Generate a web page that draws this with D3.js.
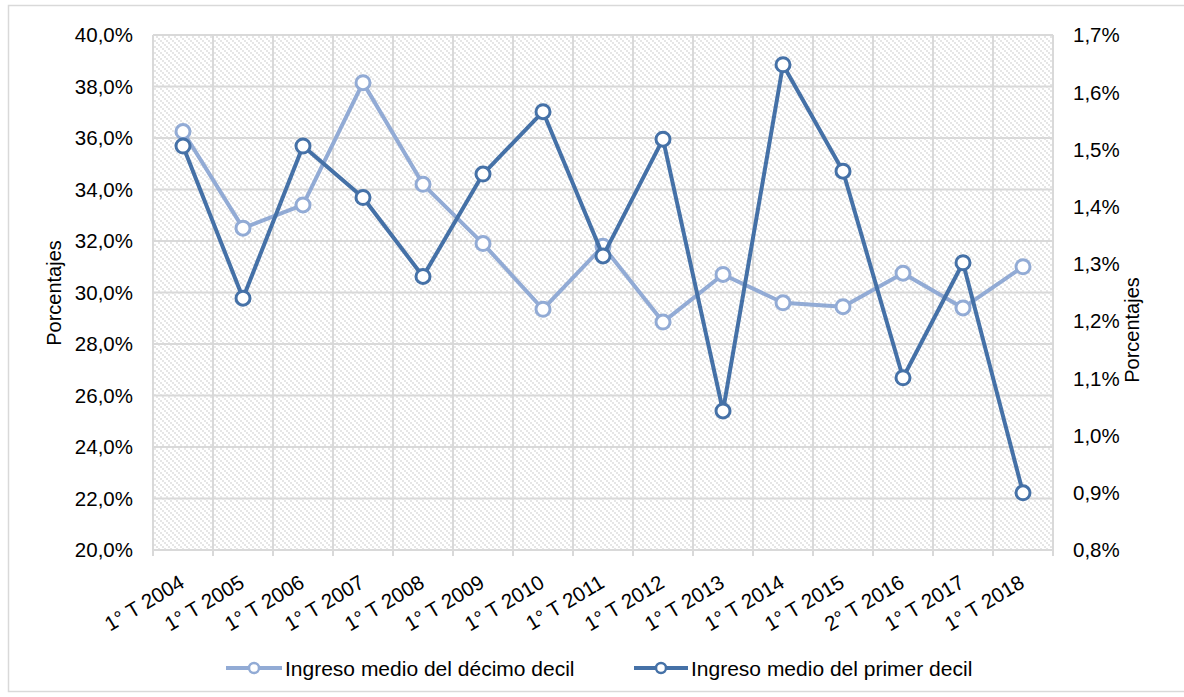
<!doctype html>
<html>
<head>
<meta charset="utf-8">
<title>Ingreso medio del décimo y primer decil</title>
<script src="https://d3js.org/d3.v7.min.js"></script>
<style>
  body { margin: 0; background: #fff; }
  text { font-family: "Liberation Sans", Arial, sans-serif; fill: #000; }
</style>
</head>
<body>
<svg id="chart" width="1184" height="697"></svg>
<script>
// categorias del eje X
var categories = ["1° T 2004", "1° T 2005", "1° T 2006", "1° T 2007", "1° T 2008",
                  "1° T 2009", "1° T 2010", "1° T 2011", "1° T 2012", "1° T 2013",
                  "1° T 2014", "1° T 2015", "2° T 2016", "1° T 2017", "1° T 2018"];

// eje izquierdo (%)
var decimoDecil = [36.25, 32.5, 33.4, 38.15, 34.2, 31.9, 29.35, 31.8, 28.85, 30.7,
                   29.6, 29.45, 30.75, 29.4, 31.0];
// eje derecho (%)
var primerDecil = [1.506, 1.240, 1.506, 1.416, 1.278, 1.457, 1.566, 1.314, 1.518, 1.043,
                   1.648, 1.462, 1.101, 1.302, 0.900];

var leftTicks = [20, 22, 24, 26, 28, 30, 32, 34, 36, 38, 40];
var rightTicks = [0.8, 0.9, 1.0, 1.1, 1.2, 1.3, 1.4, 1.5, 1.6, 1.7];

var seriesNames = ["Ingreso medio del décimo decil", "Ingreso medio del primer decil"];
var colors = ["#92abd5", "#4571a7"];

var plot = { left: 153, right: 1053, top: 35, bottom: 550 };
var gridColor = "#d9d9d9";

var svg = d3.select("#chart");

// borde exterior
svg.append("rect")
   .attr("x", 8.5).attr("y", 5.5)
   .attr("width", 1200).attr("height", 686)
   .attr("fill", "none")
   .attr("stroke", gridColor)
   .attr("stroke-width", 1.5);

// trama diagonal del area de trazado
var defs = svg.append("defs");
var pat = defs.append("pattern")
   .attr("id", "hatch")
   .attr("patternUnits", "userSpaceOnUse")
   .attr("width", 6).attr("height", 6);
pat.append("rect").attr("width", 6).attr("height", 6).attr("fill", "#fff");
[0, 2, 4].forEach(function(k) {
   pat.append("rect").attr("x", k).attr("y", k).attr("width", 2).attr("height", 2).attr("fill", "#e6e6e6");
});

var x = d3.scaleBand().domain(categories).range([plot.left, plot.right]);
var yL = d3.scaleLinear().domain([20, 40]).range([plot.bottom, plot.top]);
var yR = d3.scaleLinear().domain([0.8, 1.7]).range([plot.bottom, plot.top]);

svg.append("rect")
   .attr("x", plot.left).attr("y", plot.top)
   .attr("width", plot.right - plot.left).attr("height", plot.bottom - plot.top)
   .attr("fill", "url(#hatch)");

// lineas de cuadricula horizontales
svg.append("g").selectAll("line")
   .data(leftTicks)
   .enter().append("line")
      .attr("x1", plot.left).attr("x2", plot.right)
      .attr("y1", function(d) { return yL(d); })
      .attr("y2", function(d) { return yL(d); })
      .attr("stroke", gridColor)
      .attr("stroke-width", 2);

// lineas verticales en los limites de categoria (con marca bajo el eje)
var bounds = categories.map(function(c) { return x(c); }).concat([plot.right]);
svg.append("g").selectAll("line")
   .data(bounds)
   .enter().append("line")
      .attr("x1", function(d) { return d; })
      .attr("x2", function(d) { return d; })
      .attr("y1", plot.top)
      .attr("y2", plot.bottom + 6)
      .attr("stroke", gridColor)
      .attr("stroke-width", 2);

var fmtL = function(d) { return d3.format(".1f")(d).replace(".", ",") + "%"; };

// etiquetas eje izquierdo
svg.append("g").selectAll("text")
   .data(leftTicks)
   .enter().append("text")
      .attr("x", 133)
      .attr("y", function(d) { return yL(d); })
      .attr("dy", "0.36em")
      .attr("text-anchor", "end")
      .style("font-size", "20.5px")
      .text(fmtL);

// etiquetas eje derecho
svg.append("g").selectAll("text")
   .data(rightTicks)
   .enter().append("text")
      .attr("x", 1073)
      .attr("y", function(d) { return yR(d); })
      .attr("dy", "0.36em")
      .attr("text-anchor", "start")
      .style("font-size", "20.5px")
      .text(fmtL);

// etiquetas eje X
svg.append("g").selectAll("text")
   .data(categories)
   .enter().append("text")
      .attr("transform", function(d) {
         return "translate(" + (x(d) + x.bandwidth() / 2 - 1) + "," + 580 + ") rotate(-31)";
      })
      .attr("dy", "0.36em")
      .attr("text-anchor", "end")
      .style("font-size", "20.5px")
      .text(function(d) { return d; });

// titulos de ejes
svg.append("text")
   .attr("transform", "translate(61,293) rotate(-90)")
   .attr("text-anchor", "middle")
   .style("font-size", "20px")
   .text("Porcentajes");

svg.append("text")
   .attr("transform", "translate(1139,330) rotate(-90)")
   .attr("text-anchor", "middle")
   .style("font-size", "20px")
   .text("Porcentajes");

// series
var cx = function(i) { return x(categories[i]) + x.bandwidth() / 2; };

function drawSeries(values, yScale, color) {
   var line = d3.line()
      .x(function(d, i) { return cx(i); })
      .y(function(d) { return yScale(d); });
   svg.append("path")
      .datum(values)
      .attr("d", line)
      .attr("fill", "none")
      .attr("stroke", color)
      .attr("stroke-width", 4)
      .attr("stroke-linejoin", "round");
   svg.append("g").selectAll("circle")
      .data(values)
      .enter().append("circle")
         .attr("cx", function(d, i) { return cx(i); })
         .attr("cy", function(d) { return yScale(d); })
         .attr("r", 7)
         .attr("fill", "#fff")
         .attr("stroke", color)
         .attr("stroke-width", 3);
}

drawSeries(decimoDecil, yL, colors[0]);
drawSeries(primerDecil, yR, colors[1]);

// leyenda
var legendItems = [
   { name: seriesNames[0], color: colors[0], x0: 226, x1: 282, tx: 285 },
   { name: seriesNames[1], color: colors[1], x0: 634, x1: 688, tx: 691 }
];
var legendY = 668;
var lg = svg.append("g");
legendItems.forEach(function(it) {
   lg.append("line")
      .attr("x1", it.x0).attr("x2", it.x1)
      .attr("y1", legendY).attr("y2", legendY)
      .attr("stroke", it.color).attr("stroke-width", 4);
   lg.append("circle")
      .attr("cx", (it.x0 + it.x1) / 2).attr("cy", legendY)
      .attr("r", 5)
      .attr("fill", "#fff")
      .attr("stroke", it.color).attr("stroke-width", 2.5);
   lg.append("text")
      .attr("x", it.tx).attr("y", legendY)
      .attr("dy", "0.36em")
      .style("font-size", "21px")
      .text(it.name);
});
</script>
</body>
</html>
